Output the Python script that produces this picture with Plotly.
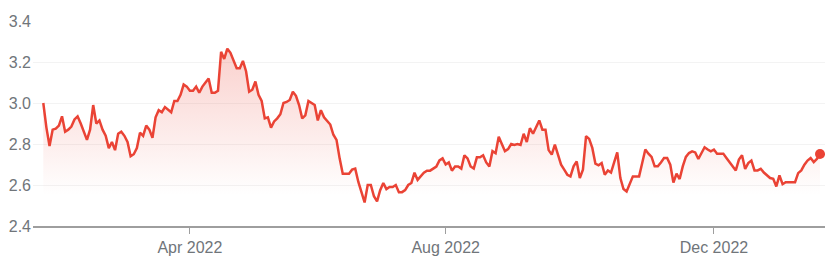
import plotly.graph_objects as go
import pandas as pd

start_date = "2022-01-25"
holidays = ["2022-02-21", "2022-04-15", "2022-05-30", "2022-06-20", "2022-07-04",
            "2022-09-05", "2022-11-24", "2022-12-26", "2023-01-02", "2023-01-16"]

values = [
    3.00, 2.88, 2.79, 2.87, 2.875, 2.89, 2.935, 2.86, 2.87, 2.885,
    2.92, 2.935, 2.90, 2.86, 2.82, 2.87, 2.99, 2.90, 2.915, 2.87,
    2.84, 2.78, 2.81, 2.77, 2.85, 2.86, 2.84, 2.81, 2.74, 2.75,
    2.78, 2.855, 2.84, 2.89, 2.87, 2.83, 2.93, 2.965, 2.955, 2.98,
    2.965, 2.955, 3.01, 3.01, 3.04, 3.09, 3.08, 3.06, 3.06, 3.08,
    3.05, 3.08, 3.10, 3.12, 3.05, 3.05, 3.06, 3.25, 3.215, 3.265,
    3.245, 3.205, 3.17, 3.17, 3.205, 3.155, 3.055, 3.065, 3.105, 3.04,
    3.01, 2.925, 2.93, 2.88, 2.91, 2.925,
    2.945, 3.00, 3.005, 3.015, 3.055, 3.035, 2.99, 2.925, 2.94, 3.01,
    3.00, 2.99, 2.915, 2.965, 2.93, 2.91, 2.895, 2.845, 2.82, 2.73,
    2.655, 2.655, 2.655, 2.675, 2.68, 2.615, 2.56, 2.515, 2.60, 2.60,
    2.545, 2.52, 2.575, 2.61, 2.58, 2.59, 2.59, 2.60, 2.565, 2.565,
    2.575, 2.60, 2.61, 2.66, 2.625, 2.645, 2.66, 2.67, 2.67, 2.68,
    2.69, 2.72, 2.73, 2.70, 2.71, 2.67, 2.69, 2.69, 2.68, 2.745,
    2.73, 2.69, 2.68, 2.735, 2.735, 2.745, 2.71, 2.69, 2.765, 2.755,
    2.835, 2.80, 2.765, 2.775, 2.80, 2.795, 2.80, 2.795, 2.85, 2.81,
    2.877, 2.85, 2.88, 2.915, 2.87, 2.87, 2.77,
    2.748, 2.797, 2.743, 2.699, 2.675, 2.650, 2.642, 2.691, 2.715, 2.634,
    2.675, 2.838, 2.825, 2.781, 2.704, 2.696, 2.707, 2.650, 2.671, 2.661,
    2.710, 2.759, 2.634, 2.580, 2.568, 2.601, 2.642, 2.642, 2.642, 2.707,
    2.773, 2.753, 2.737, 2.691, 2.691, 2.710, 2.732, 2.732, 2.699, 2.612,
    2.655, 2.629, 2.691, 2.737, 2.756, 2.764, 2.759, 2.727, 2.753, 2.784,
    2.773, 2.764, 2.773, 2.753, 2.753, 2.753, 2.732, 2.710, 2.691, 2.671,
    2.724, 2.745, 2.678, 2.707, 2.719, 2.671, 2.671, 2.679, 2.661, 2.645,
    2.634, 2.630, 2.593, 2.647, 2.604, 2.614, 2.614, 2.614, 2.614, 2.658,
    2.671, 2.699, 2.719, 2.732, 2.712, 2.727, 2.751,
]

tick_months = ["2022-04-01", "2022-08-01", "2022-12-01"]
y_ticks = [2.4, 2.6, 2.8, 3.0, 3.2, 3.4]

dates = pd.bdate_range(start=start_date, periods=len(values), freq="C", holidays=holidays)
idx = list(range(len(values)))
tickvals = [int((dates >= pd.Timestamp(m)).argmax()) for m in tick_months]
ticktext = [pd.Timestamp(m).strftime("%b %Y") for m in tick_months]

RED = "#ea4335"
GRAY_TXT = "#70757a"

fig = go.Figure()
fig.add_trace(go.Scatter(
    x=idx, y=values, mode="lines",
    line=dict(color=RED, width=2.5),
    fill="tozeroy",
    fillgradient=dict(
        type="vertical",
        start=2.55, stop=3.3,
        colorscale=[[0, "rgba(234,67,53,0)"], [1, "rgba(234,67,53,0.26)"]],
    ),
    customdata=dates.strftime("%Y-%m-%d"),
    hovertemplate="%{customdata}: %{y:.3f}<extra></extra>",
))
fig.add_trace(go.Scatter(
    x=[idx[-1]], y=[values[-1]], mode="markers",
    marker=dict(color=RED, size=10),
    hoverinfo="skip",
))

font = dict(family="Arial, 'Liberation Sans', sans-serif", size=16, color=GRAY_TXT)

fig.update_layout(
    width=837, height=258,
    margin=dict(l=33, r=12, t=21, b=32, autoexpand=False),
    paper_bgcolor="white", plot_bgcolor="white",
    showlegend=False,
    font=font,
    xaxis=dict(
        range=[-3.3, len(values) - 1 + 1.6],
        tickvals=tickvals, ticktext=ticktext,
        showgrid=False, zeroline=False,
        showline=True, linecolor="#9e9e9e", linewidth=2,
        ticks="outside", ticklen=6, tickwidth=1, tickcolor="#9e9e9e",
        tickfont=font, automargin=False,
    ),
    yaxis=dict(
        range=[2.4, 3.4],
        tickvals=y_ticks, tickformat=".1f",
        showgrid=True, gridcolor="#f3f3f3", gridwidth=1,
        zeroline=False, showline=False, ticks="",
        tickfont=font, ticklabelstandoff=1, automargin=False,
    ),
)

fig.write_html("out.html", config={"displayModeBar": False})
